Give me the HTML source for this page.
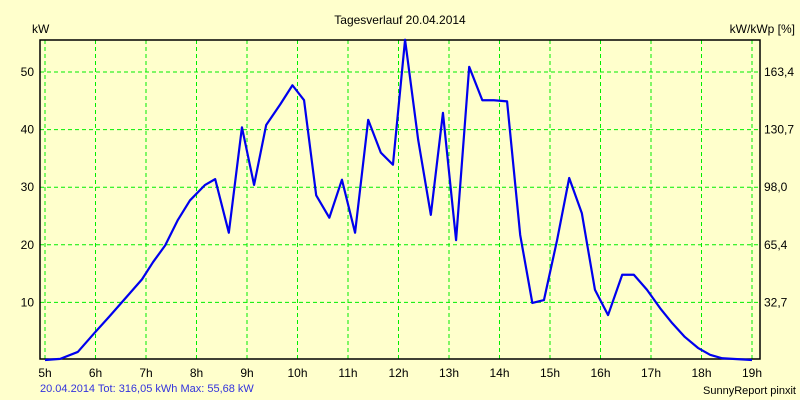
<!DOCTYPE html>
<html><head><meta charset="utf-8"><style>
body{margin:0;background:#ffffcc}
svg{display:block;font-family:"Liberation Sans",sans-serif}
</style></head><body>
<svg id="c" width="800" height="400">
<rect width="800" height="400" fill="#ffffcc"/>
<text x="400" y="24" text-anchor="middle" font-size="12">Tagesverlauf 20.04.2014</text>
<text x="32" y="33" font-size="12">kW</text>
<text x="795" y="33" text-anchor="end" font-size="12">kW/kWp [%]</text>
<text x="40" y="392" font-size="11" fill="#3333dd">20.04.2014 Tot: 316,05 kWh Max: 55,68 kW</text>
<text x="796" y="394" text-anchor="end" font-size="11">SunnyReport pinxit</text>
<g id="grid"></g><g id="axes"></g><g id="series"></g>
</svg>
<script>
const hourTicks=[5,6,7,8,9,10,11,12,13,14,15,16,17,18,19];
const kwTicks=[10,20,30,40,50];
const pctLabels=["32,7","65,4","98,0","130,7","163,4"];
const times=[5,5.3,5.65,5.98,6.27,6.64,6.92,7.14,7.38,7.63,7.87,8.17,8.37,8.64,8.9,9.14,9.38,9.66,9.9,10.13,10.37,10.63,10.88,11.14,11.4,11.65,11.89,12.13,12.39,12.64,12.88,13.14,13.4,13.66,13.89,14.15,14.41,14.65,14.88,15.14,15.38,15.63,15.89,16.15,16.43,16.66,16.92,17.18,17.42,17.67,17.93,18.17,18.41,19];
const power=[0,0.2,1.4,4.7,7.5,11.2,14.0,17.0,19.9,24.3,27.7,30.4,31.4,22.1,40.4,30.4,40.8,44.4,47.7,45.1,28.6,24.7,31.3,22.1,41.7,36.0,33.9,55.6,38.2,25.2,42.9,20.8,50.9,45.1,45.1,44.9,21.7,9.9,10.4,20.8,31.6,25.5,12.2,7.8,14.8,14.8,12.2,9.0,6.4,4.0,2.1,0.9,0.3,0];
const L=40,R=760,T=40,B=359;
const xs=h=>45+(h-5)*50.5;
const ys=v=>360-v*5.76;
const NS="http://www.w3.org/2000/svg";
function mk(tag,attrs,parent,txt){const e=document.createElementNS(NS,tag);for(const k in attrs)e.setAttribute(k,attrs[k]);if(txt!==undefined)e.textContent=txt;document.getElementById(parent).appendChild(e);return e;}
hourTicks.forEach(h=>{
 const g=mk('line',{x1:xs(h),x2:xs(h),y1:T,y2:B,stroke:'#00ee00','stroke-dasharray':'4,3'},'grid');
 
 
 const t=mk('text',{x:xs(h),y:377,'text-anchor':'middle','font-size':12},'axes',h+'h');
 
 
});
kwTicks.forEach((v,i)=>{
 const g=mk('line',{x1:L,x2:R,y1:ys(v),y2:ys(v),stroke:'#00ee00','stroke-dasharray':'4,3'},'grid');
 
 
 const t=mk('text',{x:34,y:ys(v)+4,'text-anchor':'end','font-size':12},'axes',String(v));
 
 
 const t2=mk('text',{x:764,y:ys(v)+4,'font-size':12},'axes',pctLabels[i]);
 
 
});
const fr=mk('rect',{x:L,y:T,width:R-L,height:B-T,fill:'none',stroke:'#000','stroke-width':1.5},'axes');


const p=mk('polyline',{points:times.map((t,i)=>xs(t)+','+ys(power[i])).join(' '),fill:'none',stroke:'#0000ee','stroke-width':2.2,'stroke-linejoin':'round'},'series');


</script>
</body></html>
